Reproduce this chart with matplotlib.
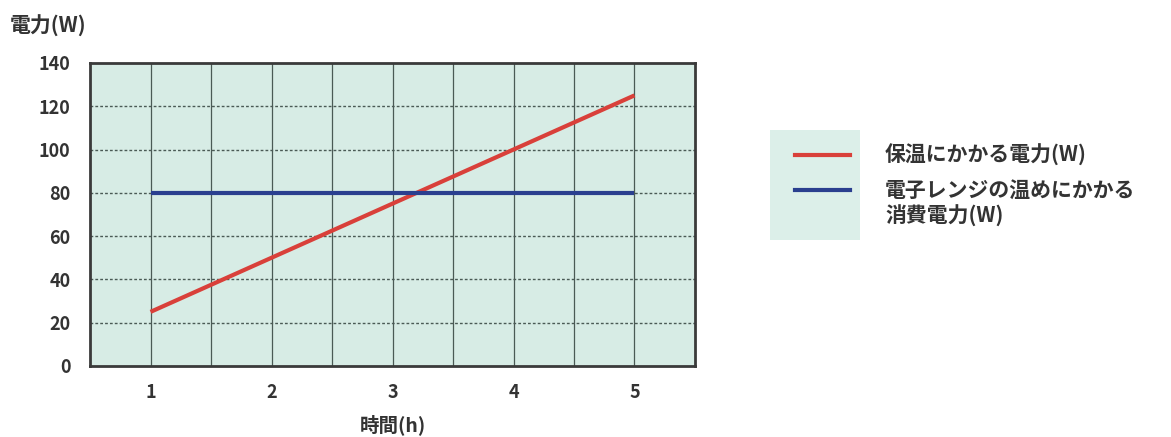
import matplotlib
matplotlib.use('Agg')
import matplotlib.pyplot as plt
from matplotlib.lines import Line2D
from matplotlib.patches import Rectangle

plt.rcParams['font.family'] = ['Noto Sans CJK JP', 'DejaVu Sans']

hours = [1, 2, 3, 4, 5]
keep_warm = [25, 50, 75, 100, 125]
microwave = [80, 80, 80, 80, 80]

label_warm = '保温にかかる電力(W)'
label_micro = ['電子レンジの温めにかかる', '消費電力(W)']

red = '#d9403a'
blue = '#2a3f8f'
txt = '#333333'

fig = plt.figure(figsize=(11.71, 4.37), dpi=100)
ax = fig.add_axes([0.0769, 0.1625, 0.5166, 0.6935])
ax.set_facecolor('#d7ece5')

ax.plot(hours, keep_warm, color=red, lw=3, solid_capstyle='butt', zorder=3)
ax.plot(hours, microwave, color=blue, lw=3, solid_capstyle='butt', zorder=3)

ax.set_xlim(0.5, 5.5)
ax.set_ylim(0, 140)
ax.set_xticks(hours)
ax.set_yticks(range(0, 141, 20))
for x in [1, 1.5, 2, 2.5, 3, 3.5, 4, 4.5, 5]:
    ax.axvline(x, color='#4a5a55', lw=0.9, zorder=1)
for y in range(20, 140, 20):
    ax.axhline(y, color='#4a5a55', lw=1.0, ls=(0, (2, 1.5)), zorder=1)
for s in ax.spines.values():
    s.set_linewidth(2)
    s.set_color('#3a3a3a')
ax.tick_params(length=0, labelsize=13, colors=txt)
ax.tick_params(axis='y', pad=14)
ax.tick_params(axis='x', pad=12)
for lab in ax.get_xticklabels() + ax.get_yticklabels():
    lab.set_fontweight('bold')

ax.set_xlabel('時間(h)', fontsize=14, fontweight='bold', color=txt, labelpad=9)
fig.text(0.008, 0.925, '電力(W)', fontsize=15, fontweight='bold', color=txt)

# legend, drawn by hand so the blue key sits on the first text line
W, H = 1171, 437
fig.patches.append(Rectangle((770 / W, 1 - 240 / H), 90 / W, 110 / H, transform=fig.transFigure,
                             facecolor='#dcefe9', edgecolor='none', zorder=0))
fig.add_artist(Line2D([795 / W, 850 / W], [1 - 155 / H] * 2, color=red, lw=3))
fig.add_artist(Line2D([795 / W, 850 / W], [1 - 190 / H] * 2, color=blue, lw=3))
fig.text(885 / W, 1 - 155 / H, label_warm, fontsize=15, fontweight='bold', color=txt, va='center')
fig.text(885 / W, 1 - 190 / H, label_micro[0], fontsize=15, fontweight='bold', color=txt, va='center')
fig.text(885 / W, 1 - 216 / H, label_micro[1], fontsize=15, fontweight='bold', color=txt, va='center')

fig.savefig('out.png', dpi=100)
